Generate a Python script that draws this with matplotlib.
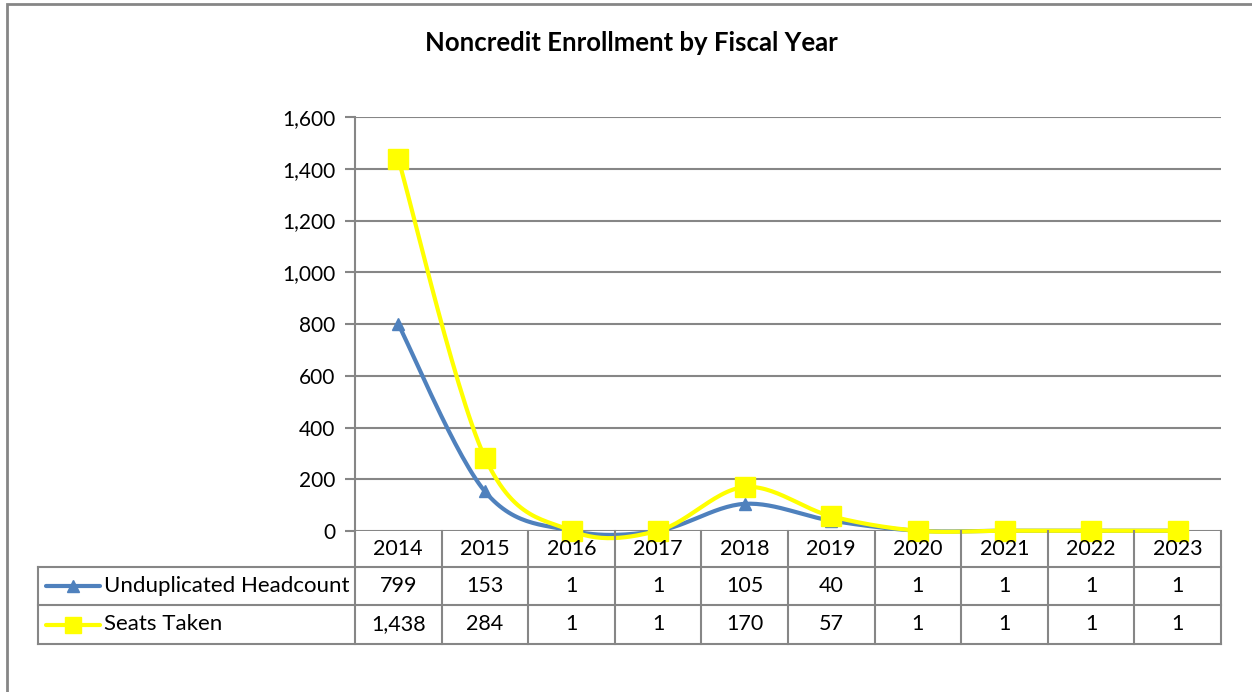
import numpy as np
import matplotlib.pyplot as plt
from matplotlib.patches import Rectangle
from matplotlib.lines import Line2D
from matplotlib.transforms import blended_transform_factory

years = ['2014', '2015', '2016', '2017', '2018', '2019', '2020', '2021', '2022', '2023']
headcount = [799, 153, 1, 1, 105, 40, 1, 1, 1, 1]
seats = [1438, 284, 1, 1, 170, 57, 1, 1, 1, 1]
series_names = ['Unduplicated Headcount', 'Seats Taken']
yticks = [0, 200, 400, 600, 800, 1000, 1200, 1400, 1600]

blue = '#4F81BD'
yellow = '#FFFF00'
grid_gray = '#868686'

plt.rcParams['font.family'] = ['Lato', 'DejaVu Sans']
fs = 15.5


def smooth(xs, ys, n=30):
    # catmull-rom style bezier smoothing like the spreadsheet "smoothed line"
    xs = np.asarray(xs, float)
    ys = np.asarray(ys, float)
    px, py = [], []
    for i in range(len(xs) - 1):
        i0 = max(i - 1, 0)
        i3 = min(i + 2, len(xs) - 1)
        c1x = xs[i] + (xs[i + 1] - xs[i0]) / 6
        c1y = ys[i] + (ys[i + 1] - ys[i0]) / 6
        c2x = xs[i + 1] - (xs[i3] - xs[i]) / 6
        c2y = ys[i + 1] - (ys[i3] - ys[i]) / 6
        t = np.linspace(0, 1, n)
        bx = (1-t)**3*xs[i] + 3*(1-t)**2*t*c1x + 3*(1-t)*t**2*c2x + t**3*xs[i+1]
        by = (1-t)**3*ys[i] + 3*(1-t)**2*t*c1y + 3*(1-t)*t**2*c2y + t**3*ys[i+1]
        px.extend(bx)
        py.extend(by)
    return px, py


W, H = 1252, 692
fig = plt.figure(figsize=(W / 100, H / 100), dpi=100)

# chart border
fig.add_artist(Rectangle((7 / W, -0.05), 1.2, 1.05 - 4 / H, transform=fig.transFigure,
                         fill=False, edgecolor=grid_gray, linewidth=2))

L, R, T, B = 355, 1221, 117, 531
ax = fig.add_axes([L / W, 1 - B / H, (R - L) / W, (B - T) / H])

x = np.arange(len(years))
ax.set_xlim(-0.5, len(years) - 0.5)
ax.set_ylim(0, 1600)
ax.set_yticks(yticks)
ax.set_yticklabels([f'{v:,}' for v in yticks], fontsize=15)
ax.set_xticks([])
for s in ['top', 'right', 'bottom']:
    ax.spines[s].set_visible(False)
ax.spines['left'].set_color(grid_gray)
ax.spines['left'].set_linewidth(1.5)
ax.tick_params(axis='y', length=7, width=1.5, color=grid_gray, pad=7)
ax.grid(axis='y', color=grid_gray, linewidth=1.5)
ax.set_axisbelow(True)

hx, hy = smooth(x, headcount)
sx, sy = smooth(x, seats)
ax.plot(hx, hy, color=blue, linewidth=3, solid_capstyle='round', clip_on=False, zorder=3)
ax.plot(x, headcount, linestyle='none', marker='^', markersize=9, color=blue, clip_on=False, zorder=4)
ax.plot(sx, sy, color=yellow, linewidth=3, solid_capstyle='round', clip_on=False, zorder=5)
ax.plot(x, seats, linestyle='none', marker='s', markersize=14, color=yellow, clip_on=False, zorder=6)

fig.text(631 / W, 1 - 43 / H, 'Noncredit Enrollment by Fiscal Year', ha='center', va='center',
         fontsize=18.5, fontweight='bold')

# data table below the plot
tr = blended_transform_factory(ax.transData, fig.transFigure)
ftr = fig.transFigure
ytop, y1, y2, y3 = [1 - v / H for v in (531, 567, 605, 644)]
lk = dict(color=grid_gray, linewidth=1.5, clip_on=False)
for i in range(len(years) + 1):
    fig.add_artist(Line2D([i - 0.5, i - 0.5], [ytop, y3], transform=tr, **lk))
for yy in (y1, y2, y3):
    fig.add_artist(Line2D([38 / W, R / W], [yy, yy], transform=ftr, **lk))
fig.add_artist(Line2D([38 / W, 38 / W], [y1, y3], transform=ftr, **lk))

for i, yr in enumerate(years):
    fig.text(i, (ytop + y1) / 2, yr, transform=tr, ha='center', va='center', fontsize=fs)
    fig.text(i, (y1 + y2) / 2, f'{headcount[i]:,}', transform=tr, ha='center', va='center', fontsize=fs)
    fig.text(i, (y2 + y3) / 2, f'{seats[i]:,}', transform=tr, ha='center', va='center', fontsize=fs)

# legend keys inside the table
for yy, name, col, mk, ms in [((y1 + y2) / 2, series_names[0], blue, '^', 9),
                               ((y2 + y3) / 2, series_names[1], yellow, 's', 11)]:
    fig.add_artist(Line2D([46 / W, 100 / W], [yy, yy], transform=ftr, color=col, linewidth=3,
                          solid_capstyle='round'))
    fig.add_artist(Line2D([73 / W], [yy], transform=ftr, marker=mk, markersize=ms,
                          color=col, linestyle='none'))
    fig.text(104 / W, yy, name, ha='left', va='center', fontsize=16)

fig.savefig('out.png', dpi=100)
